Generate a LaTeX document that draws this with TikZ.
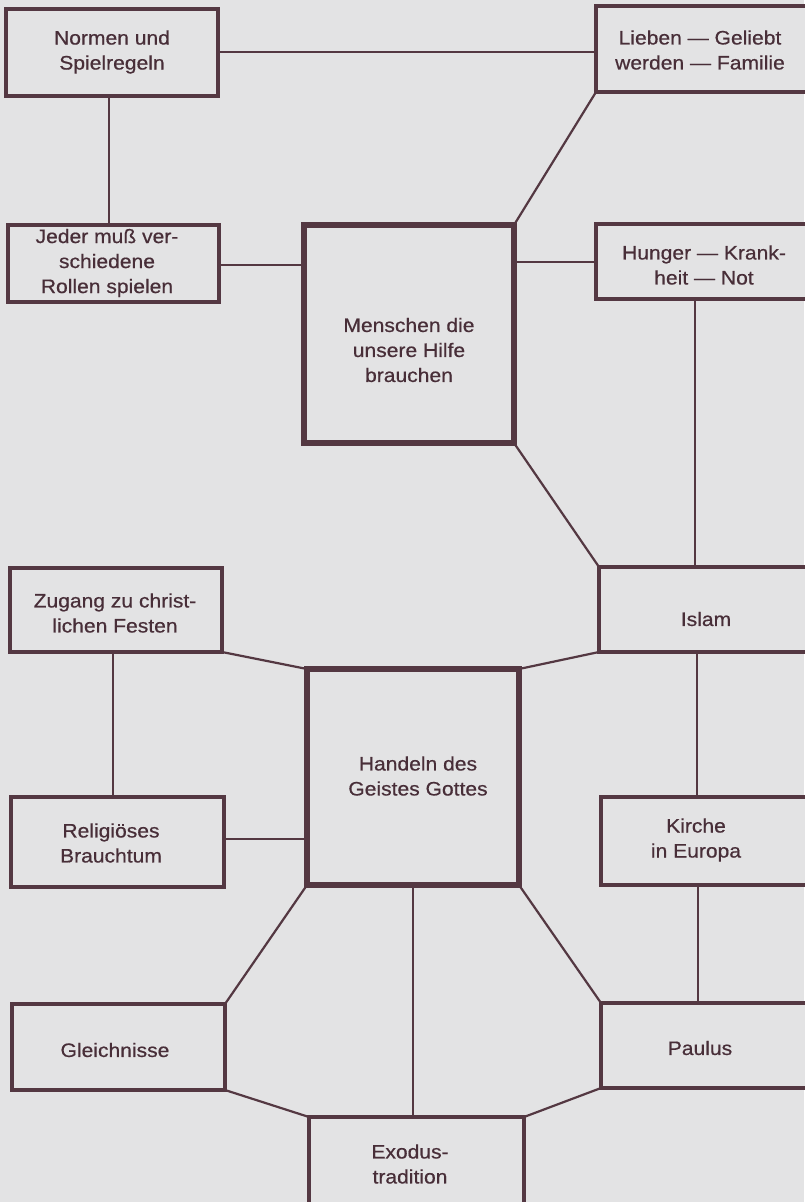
\documentclass[tikz,border=0pt]{standalone}
\usepackage{fontspec}
\setmainfont{Liberation Sans}[FakeStretch=1.08, FakeBold=0.6]
\definecolor{paper}{RGB}{227,227,228}
\definecolor{inkline}{RGB}{84,56,66}
\definecolor{inktext}{RGB}{72,46,56}
\begin{document}
\begin{tikzpicture}[x=1pt, y=-1pt,
  box/.style={draw=inkline, line width=3.2pt, fill=paper,
    rectangle, inner sep=0pt, outer sep=0pt},
  mainbox/.style={box, line width=5.4pt},
  link/.style={draw=inkline, line width=2.2pt, line join=round},
  txt/.style={text=inktext, font=\fontsize{19.5}{25}\selectfont,
    align=center, inner sep=0pt}]
% page
\fill[paper] (0,0) rectangle (804,1202);
\useasboundingbox (0,0) rectangle (804,1202);

% boxes: \node at the centre, sized from the corners
\newcommand{\rbox}[6]{%
  \node[#1, minimum width={(#5)-(#3)}, minimum height={(#6)-(#4)}]
    (#2) at ({((#3)+(#5))/2},{((#4)+(#6))/2}) {};}

% free ends of the vertical links on the right-hand column
\coordinate (h-s) at (695,299);
\coordinate (i-s) at (697,652);
\coordinate (k-s) at (698,885);

\rbox{box}{normen}{6}{9}{218}{96}
\rbox{box}{lieben}{596}{6}{812}{92}
\rbox{box}{jeder}{8}{225}{219}{302}
\rbox{mainbox}{menschen}{304}{225}{514}{443}
\rbox{box}{hunger}{596}{224}{812}{299}
\rbox{box}{zugang}{10}{568}{222}{652}
\rbox{box}{islam}{599}{567}{812}{652}
\rbox{mainbox}{handeln}{307}{669}{519}{885}
\rbox{box}{religion}{11}{797}{224}{887}
\rbox{box}{kirche}{601}{797}{812}{885}
\rbox{box}{gleich}{12}{1004}{225}{1090}
\rbox{box}{paulus}{601}{1003}{812}{1088}
\rbox{box}{exodus}{309}{1117}{524}{1220}

% labels
\node[txt] (normen-t)   at (112,52)  {Normen und\\Spielregeln};
\node[txt] (lieben-t)   at (700,50)  {Lieben — Geliebt\\werden — Familie};
\node[txt] (jeder-t)    at (107,263) {Jeder muß ver-\\schiedene\\Rollen spielen};
\node[txt] (menschen-t) at (409,350) {Menschen die\\unsere Hilfe\\brauchen};
\node[txt] (hunger-t)   at (704,265) {Hunger — Krank-\\heit — Not};
\node[txt] (zugang-t)   at (115,613) {Zugang zu christ-\\lichen Festen};
\node[txt] (islam-t)    at (706,619) {Islam};
\node[txt] (handeln-t)  at (418,776) {Handeln des\\Geistes Gottes};
\node[txt] (religion-t) at (111,843) {Religiöses\\Brauchtum};
\node[txt] (kirche-t)   at (696,840) {Kirche\\in Europa};
\node[txt] (gleich-t)   at (115,1050) {Gleichnisse};
\node[txt] (paulus-t)   at (700,1048) {Paulus};
\node[txt] (exodus-t)   at (410,1164) {Exodus-\\tradition};

% connectors
\draw[link] (normen.east |- 0,52) -- (lieben.west |- 0,52);
\draw[link] ([xshift=-3pt]normen.south) -- ([xshift=-3pt]normen.south |- jeder.north);
\draw[link] (jeder.east |- 0,265) -- (menschen.west |- 0,265);
\draw[link] (lieben.south west) -- (menschen.north east);
\draw[link] (menschen.east |- 0,262) -- (hunger.west |- 0,262);
\draw[link] (h-s) -- (h-s |- islam.north);
\draw[link] (menschen.south east) -- (islam.north west);
\draw[link] (zugang.south east) -- (handeln.north west);
\draw[link] (islam.south west) -- (handeln.north east);
\draw[link] ([xshift=-3pt]zugang.south) -- ([xshift=-3pt]zugang.south |- religion.north);
\draw[link] (religion.east |- 0,839) -- (handeln.west |- 0,839);
\draw[link] (i-s) -- (i-s |- kirche.north);
\draw[link] (k-s) -- (k-s |- paulus.north);
\draw[link] (handeln.south west) -- (gleich.north east);
\draw[link] (handeln.south) -- (handeln.south |- exodus.north);
\draw[link] (handeln.south east) -- (paulus.north west);
\draw[link] (gleich.south east) -- (exodus.north west);
\draw[link] (paulus.south west) -- (exodus.north east);
\end{tikzpicture}
\end{document}
